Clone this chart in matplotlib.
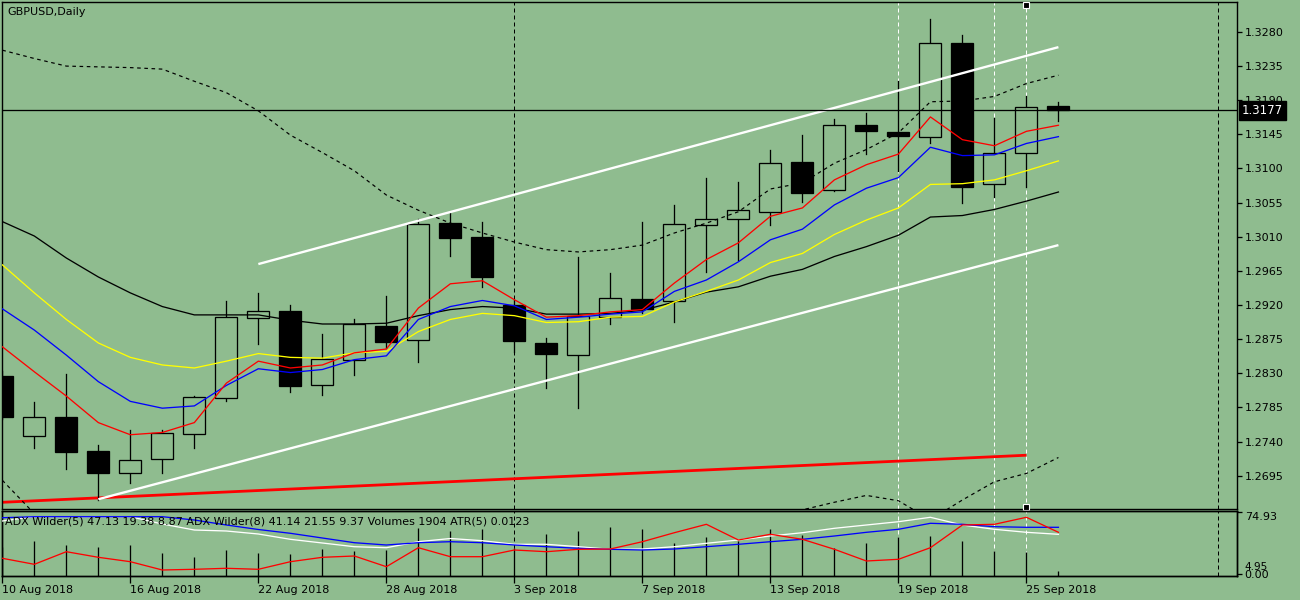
import matplotlib
matplotlib.use("Agg")
import matplotlib.pyplot as plt
from matplotlib.patches import Rectangle
from matplotlib.transforms import blended_transform_factory

# ---------------- data ----------------
symbol_title = "GBPUSD,Daily"
indicator_title = ("ADX Wilder(5) 47.13 19.38 8.87 ADX Wilder(8) 41.14 21.55 9.37 "
                   "Volumes 1904 ATR(5) 0.0123")

tick_bars = [0, 4, 8, 12, 16, 20, 24, 28, 32]
tick_labels = ["10 Aug 2018", "16 Aug 2018", "22 Aug 2018", "28 Aug 2018", "3 Sep 2018",
               "7 Sep 2018", "13 Sep 2018", "19 Sep 2018", "25 Sep 2018"]

price_ticks = [1.3280, 1.3235, 1.3190, 1.3145, 1.3100, 1.3055, 1.3010, 1.2965,
               1.2920, 1.2875, 1.2830, 1.2785, 1.2740, 1.2695]
current_price = 1.3177

opens = [1.2827, 1.2747, 1.2773, 1.2728, 1.2698, 1.2717, 1.2750, 1.2797, 1.2903, 1.2912,
         1.2814, 1.2847, 1.2893, 1.2874, 1.3028, 1.3010, 1.2920, 1.2870, 1.2854, 1.2904,
         1.2928, 1.2925, 1.3025, 1.3033, 1.3043, 1.3109, 1.3071, 1.3157, 1.3148, 1.3141,
         1.3265, 1.3079, 1.3120, 1.3182]
highs = [1.2833, 1.2792, 1.2829, 1.2736, 1.2755, 1.2755, 1.2800, 1.2925, 1.2936, 1.2920,
         1.2882, 1.2901, 1.2932, 1.3033, 1.3041, 1.3030, 1.2927, 1.2877, 1.2983, 1.2962,
         1.3029, 1.3052, 1.3088, 1.3082, 1.3124, 1.3144, 1.3165, 1.3173, 1.3215, 1.3297,
         1.3276, 1.3167, 1.3195, 1.3188]
lows = [1.2770, 1.2732, 1.2704, 1.2663, 1.2686, 1.2698, 1.2731, 1.2794, 1.2869, 1.2805,
        1.2801, 1.2828, 1.2863, 1.2845, 1.2985, 1.2944, 1.2858, 1.2811, 1.2784, 1.2895,
        1.2909, 1.2897, 1.2964, 1.2980, 1.3026, 1.3056, 1.3070, 1.3119, 1.3097, 1.3134,
        1.3054, 1.3063, 1.3076, 1.3162]
closes = [1.2773, 1.2772, 1.2726, 1.2699, 1.2716, 1.2751, 1.2799, 1.2904, 1.2912, 1.2813,
          1.2849, 1.2895, 1.2871, 1.3027, 1.3009, 1.2957, 1.2872, 1.2855, 1.2905, 1.2929,
          1.2915, 1.3027, 1.3034, 1.3045, 1.3107, 1.3068, 1.3158, 1.3149, 1.3143, 1.3266,
          1.3075, 1.3120, 1.3181, 1.3177]

ma_red = [1.2865, 1.2832, 1.2800, 1.2765, 1.2749, 1.2752, 1.2765, 1.2817, 1.2846, 1.2837,
          1.2841, 1.2857, 1.2862, 1.2916, 1.2948, 1.2952, 1.2927, 1.2904, 1.2906, 1.2911,
          1.2914, 1.2949, 1.2980, 1.3002, 1.3037, 1.3048, 1.3085, 1.3105, 1.3119, 1.3168,
          1.3138, 1.3130, 1.3149, 1.3157]
ma_blue = [1.2915, 1.2887, 1.2854, 1.2819, 1.2793, 1.2784, 1.2787, 1.2814, 1.2836, 1.2831,
           1.2835, 1.2848, 1.2853, 1.2901, 1.2918, 1.2926, 1.2919, 1.2901, 1.2904, 1.2908,
           1.2911, 1.2938, 1.2953, 1.2977, 1.3006, 1.3020, 1.3052, 1.3074, 1.3088, 1.3128,
           1.3117, 1.3118, 1.3133, 1.3142]
ma_yellow = [1.2973, 1.2936, 1.2901, 1.2870, 1.2851, 1.2841, 1.2837, 1.2846, 1.2856, 1.2851,
             1.2850, 1.2857, 1.2859, 1.2885, 1.2901, 1.2909, 1.2906, 1.2897, 1.2898, 1.2904,
             1.2905, 1.2924, 1.2938, 1.2953, 1.2976, 1.2988, 1.3013, 1.3032, 1.3048, 1.3079,
             1.3080, 1.3085, 1.3097, 1.3110]
ma_black = [1.3030, 1.3011, 1.2982, 1.2957, 1.2936, 1.2918, 1.2907, 1.2907, 1.2907, 1.2900,
            1.2895, 1.2895, 1.2896, 1.2906, 1.2914, 1.2918, 1.2916, 1.2908, 1.2908, 1.2909,
            1.2913, 1.2924, 1.2937, 1.2944, 1.2958, 1.2967, 1.2984, 1.2997, 1.3012, 1.3036,
            1.3038, 1.3046, 1.3057, 1.3069]
band_upper = [1.3256, 1.3245, 1.3235, 1.3234, 1.3233, 1.3231, 1.3215, 1.3200, 1.3176, 1.3144,
              1.3121, 1.3097, 1.3065, 1.3045, 1.3028, 1.3015, 1.3003, 1.2993, 1.2990, 1.2993,
              1.2999, 1.3015, 1.3028, 1.3043, 1.3073, 1.3081, 1.3107, 1.3125, 1.3147, 1.3188,
              1.3189, 1.3195, 1.3212, 1.3223]
band_lower = [1.2689, 1.2645, 1.2627, 1.2611, 1.2600, 1.2595, 1.2591, 1.2590, 1.2590, 1.2591,
              1.2594, 1.2595, 1.2598, 1.2600, 1.2601, 1.2603, 1.2603, 1.2604, 1.2605, 1.2607,
              1.2609, 1.2613, 1.2619, 1.2624, 1.2634, 1.2650, 1.2660, 1.2669, 1.2662, 1.2637,
              1.2663, 1.2687, 1.2698, 1.2719]

# trend lines: (bar, price) end points
channel_upper = [(8, 1.2974), (33, 1.3260)]
channel_lower = [(3, 1.2664), (33, 1.2999)]
red_line = [(-1, 1.2658), (32, 1.2722)]

white_vlines = [28, 31, 32]
black_vlines = [16, 38]
selected_bar = 32

adx_blue = [68.0, 69.25, 69.25, 69.25, 69.25, 69.25, 65.26, 59.22, 53.78, 49.19, 43.51, 37.83,
            35.05, 37.83, 39.03, 37.83, 35.05, 32.99, 31.06, 29.85, 29.00, 30.21, 32.99,
            35.89, 39.03, 41.93, 45.92, 50.39, 54.02, 61.27, 60.06, 57.16, 56.44, 56.44]
adx_white = [64.05, 69.25, 69.25, 69.25, 69.25, 60.43, 53.17, 51.97, 48.34, 41.93, 37.46,
             32.99, 31.78, 39.03, 42.90, 40.24, 35.89, 35.89, 32.99, 29.85, 30.21, 32.99,
             37.10, 41.09, 45.92, 49.91, 55.23, 59.22, 63.20, 68.52, 59.22, 54.02, 50.39, 47.98]
adx_red = [18.97, 11.72, 26.95, 20.18, 14.86, 4.83, 5.68, 6.89, 5.68, 14.86, 20.18, 21.75,
           8.82, 31.78, 20.91, 20.91, 29.00, 26.95, 29.85, 30.21, 39.03, 49.91, 60.06, 41.09,
           47.98, 41.93, 29.85, 15.71, 17.76, 31.78, 59.22, 60.06, 68.52, 50.39]
volumes = [10500, 12600, 11200, 10400, 11200, 8400, 6800, 9400, 8400, 7900, 9700, 9000, 9400,
           17200, 16200, 16800, 10000, 15100, 16200, 17500, 16800, 12000, 14100, 12700, 16900,
           14800, 10000, 12000, 14100, 14500, 12700, 9100, 8700, 1904]

# ---------------- style ----------------
BG = "#8FBC8F"
PX = 0.72  # one pixel in points at dpi 100
FS = 8
plt.rcParams["font.family"] = ["DejaVu Sans"]

W, H = 1300, 600
fig = plt.figure(figsize=(W / 100, H / 100), dpi=100, facecolor=BG)

left_px, right_px = 2, 1237
ax = fig.add_axes([left_px / W, (H - 509) / H, (right_px - left_px) / W, 507 / H])
axi = fig.add_axes([left_px / W, (H - 576) / H, (right_px - left_px) / W, 65 / H])

xlim = (-0.01, 38.58)
for a in (ax, axi):
    a.set_facecolor(BG)
    a.set_xlim(*xlim)
    for s in a.spines.values():
        s.set_color("black")
        s.set_linewidth(PX * 1.4)

ax.set_ylim(1.26511, 1.33195)
n = len(opens)
xs = list(range(n))

# vertical dashed lines
for b in white_vlines:
    for a in (ax, axi):
        a.axvline(b, color="white", lw=PX, ls=(0, (4, 3)), zorder=1)
for b in black_vlines:
    for a in (ax, axi):
        a.axvline(b, color="black", lw=PX, ls=(0, (4, 3)), zorder=1)

# red thick line
ax.plot([p[0] for p in red_line], [p[1] for p in red_line], color="#FF0000", lw=2.0, zorder=2,
        solid_capstyle="butt")

# candles
body_w = 0.69
for i in xs:
    o, h, l, c = opens[i], highs[i], lows[i], closes[i]
    ax.plot([i, i], [l, h], color="black", lw=PX * 1.3, zorder=3)
    bull = c >= o
    lo, hi = min(o, c), max(o, c)
    ax.add_patch(Rectangle((i - body_w / 2, lo), body_w, max(hi - lo, 0.00004),
                           facecolor=BG if bull else "black", edgecolor="black",
                           lw=PX * 1.3, zorder=4))

# moving averages
ax.plot(xs, ma_black, color="black", lw=PX * 1.3, zorder=5)
ax.plot(xs, ma_yellow, color="#FFFF00", lw=PX * 1.3, zorder=5)
ax.plot(xs, ma_blue, color="#0000FF", lw=PX * 1.3, zorder=5)
ax.plot(xs, ma_red, color="#FF0000", lw=PX * 1.3, zorder=5)
ax.plot(xs, band_upper, color="black", lw=PX * 1.2, ls=(0, (3, 3)), zorder=5)
ax.plot(xs, band_lower, color="black", lw=PX * 1.2, ls=(0, (3, 3)), zorder=5)

# channel lines
for ln in (channel_upper, channel_lower):
    ax.plot([p[0] for p in ln], [p[1] for p in ln], color="white", lw=1.7, zorder=6,
            solid_capstyle="butt")

# current price line
ax.axhline(current_price, color="black", lw=PX * 1.3, zorder=6)

# selection markers
bt = blended_transform_factory(ax.transData, ax.transAxes)
ax.plot([selected_bar], [1 - 3 / 507], marker="s", ms=4.5, mfc="black", mec="white", mew=0.8,
        transform=bt, clip_on=False, zorder=8)
ax.plot([selected_bar], [2 / 507], marker="s", ms=4.5, mfc="black", mec="white", mew=0.8,
        transform=bt, clip_on=False, zorder=8)

# axes ticks main
ax.set_xticks([])
ax.yaxis.tick_right()
ax.set_yticks(price_ticks)
ax.set_yticklabels([f"{p:.4f}" for p in price_ticks], fontsize=FS)
ax.tick_params(axis="y", direction="out", length=3.5, width=PX * 1.3, pad=2, colors="black")

bt2 = blended_transform_factory(ax.transAxes, ax.transData)
ax.text(1 + 5 / 1235, current_price, f"{current_price:.4f}", transform=bt2, color="white",
        fontsize=FS + 0.5, va="center", ha="left", zorder=10,
        bbox=dict(facecolor="black", edgecolor="black", boxstyle="square,pad=0.25"))

ax.text(5 / 1235, 1 - 10 / 507, symbol_title, transform=ax.transAxes, fontsize=FS,
        va="center", ha="left", color="black")

# ---------------- indicator panel ----------------
axi.set_ylim(0, 23400)
axi.vlines(xs, 0, volumes, color="black", lw=PX * 1.3, zorder=2)
axi.set_yticks([])
axi.set_xticks(tick_bars)
axi.set_xticklabels(tick_labels, fontsize=FS)
for lbl in axi.get_xticklabels():
    lbl.set_horizontalalignment("left")
axi.tick_params(axis="x", direction="out", length=5, width=PX * 1.3, pad=1.5, colors="black")

axa = axi.twinx()
axa.set_ylim(-2.42, 76.14)
axa.set_xlim(*xlim)
axa.plot(xs, adx_white, color="white", lw=PX * 1.3, zorder=3)
axa.plot(xs, adx_blue, color="#0000FF", lw=PX * 1.3, zorder=4)
axa.plot(xs, adx_red, color="#FF0000", lw=PX * 1.3, zorder=5)
axa.set_yticks([74.93, 0.0])
axa.set_yticklabels(["74.93", "0.00"], fontsize=FS)
axa.tick_params(axis="y", direction="out", length=3.5, width=PX * 1.3, pad=2, colors="black")
labs = axa.get_yticklabels()
labs[0].set_verticalalignment("top")
labs[1].set_verticalalignment("center_baseline")
for s in axa.spines.values():
    s.set_color("black")
    s.set_linewidth(PX * 1.4)
bt3 = blended_transform_factory(axa.transAxes, axa.transData)
axa.text(1 + 7 / 1235, 8.5, "4.95", transform=bt3, fontsize=FS - 0.5, va="center", ha="left")
axa.text(3 / 1235, 1 - 11 / 65, indicator_title, transform=axa.transAxes, fontsize=FS,
         va="center", ha="left", color="black", zorder=10)

fig.savefig("out.png", dpi=100, facecolor=BG)
